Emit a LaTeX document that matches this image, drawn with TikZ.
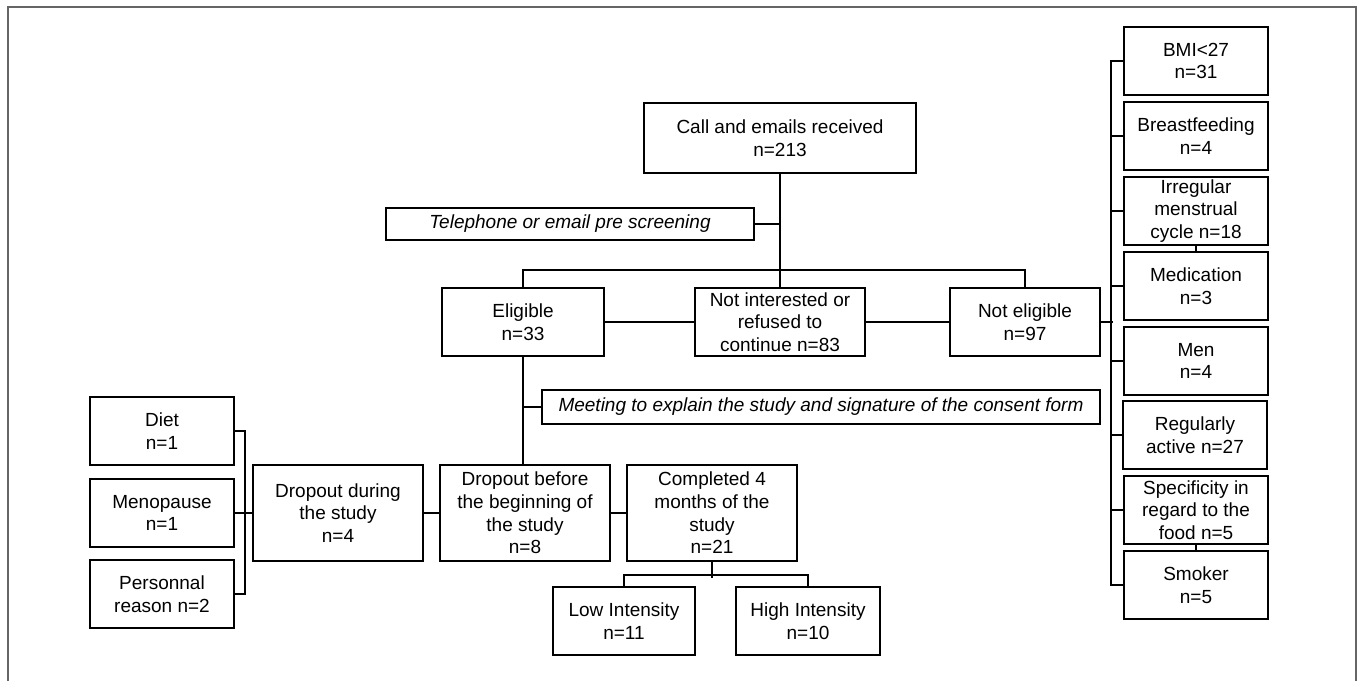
\documentclass[tikz,border=0pt]{standalone}
\usepackage{fontspec}
\setmainfont{Liberation Sans}
\begin{document}
\begin{tikzpicture}[x=1pt,y=-1pt,
  box/.style={draw, line width=2pt, inner sep=0pt, align=center,
    font=\fontsize{19}{22.7}\selectfont},
  rbox/.style={box, minimum width=144pt, minimum height=68pt},
  conn/.style={line width=2pt},
  frame/.style={line width=1.6pt, draw=black!60}]
\useasboundingbox (0,0) rectangle (1362,681);
\draw[frame] (8,681) -- (8,7) -- (1356,7) -- (1356,681);

% top
\node[box, minimum width=272pt, minimum height=70pt] (main) at (780,138) {Call and emails received\\n=213};
\node[box, minimum width=368pt, minimum height=32pt, font=\fontsize{19}{22.7}\selectfont\itshape] (tel) at (570,224) {Telephone or email pre screening};
\node[box, minimum width=162pt, minimum height=68pt] (elig) at (523,322) {Eligible\\n=33};
\node[box, minimum width=170pt, minimum height=68pt] (notint) at (780,322) {Not interested or\\refused to\\continue n=83};
\node[box, minimum width=150pt, minimum height=68pt] (noteli) at (1025,322) {Not eligible\\n=97};
\node[box, minimum width=558pt, minimum height=34pt, font=\fontsize{19}{22.7}\selectfont\itshape] (meet) at (821,407) {Meeting to explain the study and signature of the consent form};

% left
\node[box, minimum width=144pt, minimum height=68pt] (diet) at (162,431) {Diet\\n=1};
\node[box, minimum width=144pt, minimum height=68pt] (meno) at (162,513) {Menopause\\n=1};
\node[box, minimum width=144pt, minimum height=68pt] (pers) at (162,594) {Personnal\\reason n=2};
\node[box, minimum width=170pt, minimum height=96pt] (dropd) at (338,513) {Dropout during\\the study\\n=4};
\node[box, minimum width=170pt, minimum height=96pt] (dropb) at (525,513) {Dropout before\\the beginning of\\the study\\n=8};
\node[box, minimum width=170pt, minimum height=96pt] (compl) at (712,513) {Completed 4\\months of the\\study\\n=21};
\node[box, minimum width=142pt, minimum height=68pt] (low) at (624,621) {Low Intensity\\n=11};
\node[box, minimum width=144pt, minimum height=68pt] (high) at (808,621) {High Intensity\\n=10};

% right column
\node[rbox] (bmi) at (1196,61) {BMI<27\\n=31};
\node[rbox] (brf) at (1196,136) {Breastfeeding\\n=4};
\node[rbox] (irr) at (1196,211) {Irregular\\menstrual\\cycle n=18};
\node[rbox] (med) at (1196,286) {Medication\\n=3};
\node[rbox] (men) at (1196,361) {Men\\n=4};
\node[rbox] (reg) at (1195,435) {Regularly\\active n=27};
\node[rbox] (spec) at (1196,510) {Specificity in\\regard to the\\food n=5};
\node[rbox] (smk) at (1196,585) {Smoker\\n=5};

% connectors
\draw[conn] (main.south) -- (notint.north);
\draw[conn] (tel.east) -- (tel.east -| main.south);
\draw[conn] (elig.north) -- ++(0,-17) -| (noteli.north);
\draw[conn] (elig.east) -- (notint.west);
\draw[conn] (notint.east) -- (noteli.west);
\draw[conn] (elig.south) -- (elig.south |- dropb.north);
\draw[conn] (meet.west) -- (meet.west -| elig.south);
\draw[conn] (dropb.west) -- (dropd.east);
\draw[conn] (dropb.east) -- (compl.west);
\draw[conn] (meno.east) -- (dropd.west);
\draw[conn] (diet.east) -- ++(10,0) |- (pers.east);
\draw[conn] (compl.south) -- ++(0,16);
\draw[conn] (low.north) -- ++(0,-11) -| (high.north);
\draw[conn] (noteli.east) -- ++(12,0);
\draw[conn] (bmi.west) -- ++(-12,0) |- (smk.west);
\foreach \b in {brf,irr,med,men,spec} \draw[conn] (\b.west) -- ++(-12,0);
\draw[conn] (reg.west) -- ++(-11,0);
\draw[conn] (irr.south) -- (med.north);
\draw[conn] (spec.south) -- (smk.north);
\end{tikzpicture}
\end{document}
